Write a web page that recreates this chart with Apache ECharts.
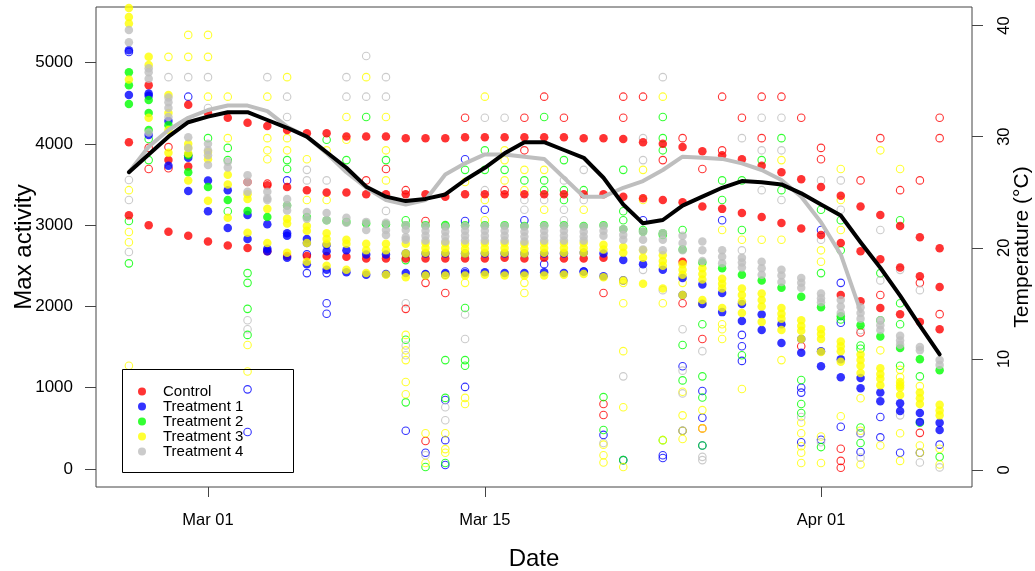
<!DOCTYPE html>
<html><head><meta charset="utf-8">
<script src="https://cdn.jsdelivr.net/npm/echarts@6/dist/echarts.min.js"></script>
<style>html,body{margin:0;padding:0;background:#fff}#c{width:1035px;height:571px}</style>
</head><body><div id="c"></div>
<script>
const dates = ['2015-02-25','2015-02-26','2015-02-27','2015-02-28','2015-03-01','2015-03-02','2015-03-03','2015-03-04','2015-03-05','2015-03-06',
'2015-03-07','2015-03-08','2015-03-09','2015-03-10','2015-03-11','2015-03-12','2015-03-13','2015-03-14','2015-03-15','2015-03-16',
'2015-03-17','2015-03-18','2015-03-19','2015-03-20','2015-03-21','2015-03-22','2015-03-23','2015-03-24','2015-03-25','2015-03-26',
'2015-03-27','2015-03-28','2015-03-29','2015-03-30','2015-03-31','2015-04-01','2015-04-02','2015-04-03','2015-04-04','2015-04-05',
'2015-04-06','2015-04-07'];
const xTickDates = ['2015-03-01','2015-03-15','2015-04-01'];
const xTickLabels = ['Mar 01','Mar 15','Apr 01'];
const activityTicks = [0,1000,2000,3000,4000,5000];
const tempTicks = [0,10,20,30,40];
const names = ['Control','Treatment 1','Treatment 2','Treatment 3','Treatment 4'];
const colors = ['#FF0000','#0000FF','#00FF00','#FFFF00','#BEBEBE'];

// temperature lines (°C), one value per day
const tempBlack = [26.8,28.4,30.0,31.3,31.8,32.2,32.2,31.5,30.8,30.0,28.6,27.2,25.5,24.6,24.2,24.4,24.8,26.1,27.2,28.5,
29.5,29.5,28.8,28.1,26.3,23.9,22.2,22.5,23.8,24.6,25.4,26.0,25.9,25.7,24.9,23.9,22.9,20.5,18.2,15.7,13.0,10.4];
const tempGray = [26.8,29.1,30.6,31.7,32.4,32.8,32.8,32.3,30.9,30.0,28.5,26.8,25.4,24.3,23.9,24.3,26.6,27.6,28.4,28.4,
28.2,28.0,26.3,24.6,24.6,25.4,26.0,27.0,28.2,28.1,28.0,27.6,27.0,26.1,24.6,22.3,19.4,14.3];

// filled points (per day)
const ctrlFilled = [[4020,3120],[4720,3000],[3800,2920],[4480,3720,2870],[4380,2800],[4320,2750],[4260,3530,2720],[4220,3490,2680],
[4170,3470,2620],[4130,3430,2620],[4130,3400,2620],[4090,3400,2610],[4090,3380,2590],[4090,3380,2590],[4070,3380,2590],[4070,3380,2590],
[4070,3350,2590],[4080,3380,2590],[4080,3380,2590],[4080,3380,2600],[4080,3380,2590],[4080,3380,2600],[4080,3380,2590],[4070,3380,2590],
[4070,3380,2600],[4060,3350],[4020,3330],[4000,3310],[3960,3280,2550],[3910,3230],[3860,3200],[3810,3150],[3730,3100],[3650,3025],
[3565,2960],[3470,2880],[3360,2780,2140],[3230,2680,2065],[3125,2580,1980],[2990,2480,1905],[2850,2370,1810],[2715,2240,1720]];
const t1Filled = [[5150,4600],[4620,4590,4110],[4280,3730],[3860,3830,3420],[3550,3170],[3430,2965],[3125,2830],[3010,2710,2680],
[2900,2870,2600],[2830,2780,2520],[2755,2680,2450],[2690,2420],[2640,2390],[2640,2400],[2650,2410],[2650,2400],[2650,2410],[2650,2410],
[2650,2420],[2650,2410],[2650,2410],[2650,2420],[2650,2410],[2660,2430],[2650,2370],[2570],[2520],[2450],[2350,2140],[2270,2030],
[2165,1930],[2030,1820],[1900,1710],[1780,1550],[1600,1430],[1450,1265],[1350,1130],[1120,995],[940,835],[810,715],[690,580],[570,480]];
const t2Filled = [[4880,4720,4490],[4540,4380,4170],[4230],[3860,3650],[3470],[3310],[3175],[3100],[3240],[3100],[3060],[3040],[3020],
[3010],[3000],[3000],[2990],[3000],[3000],[3000],[2990],[3000],[3000],[2990],[3000],[2950],[2920],[2900],[2700],[2540],[2470],[2390],
[2320],[2230],[2120],[1990],[1880],[1770],[1630],[1490],[1350],[1215]];
const t3Filled = [[5700,5670,5560,5480,4790],[5070,4970,4320],[4600,4380,4170,3890],[4000,3950,3880,3550],[3900,3810,3300],
[3620,3500,3090],[3380,3320,2905],[3200,2780],[3080,3020,2660],[2990,2930,2780,2550],[2900,2830,2770,2500],[2820,2770,2450],
[2770,2690,2410],[2770,2690,2390],[2770,2650,2360],[2780,2720,2660,2380],[2780,2720,2660,2380],[2770,2710,2650,2380],
[2780,2720,2660,2390],[2780,2720,2660,2380],[2770,2710,2650,2380],[2780,2720,2660,2380],[2780,2720,2660,2390],[2780,2720,2660,2400],
[2760,2700,2360],[2730,2660,2320],[2690,2600,2280],[2630,2560,2500,2220],[2520,2450,2390,2140],[2470,2400,2330,2080],
[2340,2280,2220,1980],[2220,2140,2060,1920],[2160,2080,2000,1810],[1980,1910,1850,1710],[1830,1760,1700,1600],[1720,1660,1600,1440],
[1570,1510,1450,1320],[1410,1340,1270,1180],[1240,1170,1110,1030],[1070,1030,1000,910],[940,870,800],[790,720,660]];
const t4Filled = [[5400,5250],[4930,4880,4800,4140],[4570,4510,4440,4330],[4080,3950],[4000,3920,3860,3740],[3780,3710],
[3615,3530,3410],[3410,3330,3310],[3320,3240,3180],[3160,3080],[3150,3060],[3090,3030],[3040,2940],[3030,2940,2880],
[3000,2940,2850,2820],[2990,2930,2870,2810],[2980,2920,2860,2800],[2990,2930,2870,2810],[2990,2930,2870,2810],[2990,2930,2870,2810],
[2980,2920,2860,2800],[2990,2930,2870,2810],[2990,2930,2870,2810],[2980,2920,2860,2810],[2990,2930,2870],[2950,2880,2820],
[2920,2820,2700],[2900,2820,2690],[2870,2780,2690],[2800,2690,2560],[2690,2610,2530],[2600,2540,2480],[2550,2470,2390],
[2450,2380,2300],[2350,2290,2230],[2160,2100,2050],[2080,2000,1920],[1990,1920,1850],[1830,1770,1710],[1640,1580,1530],[1500,1460],
[1340,1280]];

// open circles (per day)
const ctrlOpen = [[],[3950,3690],[3960,3700],[],[],[],[],[3510],[],[],[],[],[3550],[3690],[3430,1970],[3050,2290,345],[2165],[4320],[],
[3430],[4320,3920],[4580],[4320],[],[2165,800,665],[4580,4320],[4580],[3800],[4070,2040],[3690,1600,500],[4580,3920],[4320],
[4580,4070],[4580],[4320,1510],[3950,3810],[250,100,15],[3550,1680],[4070,2140],[3430],[3550,2290,445],[4320,4070,1905]];
const t1Open = [[5130],[],[],[4580],[],[],[980,455],[],[3550],[2640,2410],[2410,2040,1910],[],[],[],[470],[2390,200],[2390,850,355,50],
[3810,3050,2430,1010],[3190],[],[3060],[2520],[],[2430],[420],[2320,110],[3060],[170,135],[1265,470],[960,630,290],[3060],
[1650,1510,1330],[],[],[1000,940,330],[2940,360],[2290,1800,520],[440,210],[640,390],[200],[200],[300]];
const t2Open = [[3050,2530],[4060,3800],[],[],[4070],[3950,3800,3170],[2410,2290,1970,1650],[],[3800,3690],[],[4050],[3800],[4330],
[3800],[3060,2570,1590,820],[25],[3000,1340,875,75],[3680,1980,1340,1270],[3920,3680],[3680],[3550],[4330,3550,3430],[3800,3430,3310],
[3430],[885,480],[3680,3170,3060,110],[2940],[4330,4070,3920,2880,355],[2940,1525,1090],[1780,1140,880,290],[3550,3310],
[3550,2940,1400],[3800],[4070,3430],[1095,800,690],[3190,2410,270],[3060,2690,1840],[1520,1480,510,320],[2410,1830],
[3060,2040,1780,1270],[1140,570],[150]];
const t3Open = [[3430,2915,2790,1270],[],[5070],[5340,5070],[5340,5070,4580],[4580,4070],[1525,1200],[4580,4070,3920,3810],
[4820,4070,3920],[3810,3310],[3920,3310],[4330,4050],[4820],[4330,3920,3550],[1650,1460,1340,1070,920],[440,75],[440,245,200],
[3530,2290,875,800],[4580,3310,3060],[3920,3800,3550],[3680,3430,2290,2165],[3680,3190],[],[3190],[300,170,80],
[2290,2040,1450,760,25],[3680,3310],[4580,2040,355],[2290,950,660,470,370],[2040,725,500],[2940,1780,1720,1600],[2820,985],[2820],
[3800,2820,1340],[570,440,280,200,75],[2690,2550,400,75],[3690,3310,2940,650],[870,470,55],[3920,1460,290],[3690,1220,1130,440,100],
[1020,290,200],[250,55]];
const t4Open = [[3555,3310,2670],[],[4820],[4820],[4820,4440],[],[1830,1720],[4820],[4580,4330],[3680,3550],[3550],[4820,4580],
[5080,4580],[4820,4580,3175],[2040,1520,1400],[170],[760,600],[1900,1600],[4320,3430],[4320],[3310,3190],[3310],[3550,3190,3060],
[3680,3310],[320],[1140],[4070,3800,2450],[4820,2200],[1720,1210,930],[1450,150,110],[],[4070,2690],[4320,3920,3430],[4320,3920,3310],
[640],[3550,2820,330],[3550,3190],[1710,440,140],[2940,2320],[2450,660],[2200,80],[20]];

const DAY = 86400000;
const ts = d => Date.parse(d + 'T00:00:00Z');
const xTicks = xTickDates.map(ts);
const FONT = "'Liberation Sans', Arial, sans-serif";
function pts(arr){ const out=[]; arr.forEach((vals,i)=>vals.forEach(v=>out.push([ts(dates[i]), v]))); return out; }
function line(arr){ return arr.map((v,i)=>[ts(dates[i]), v]); }

const filledSets = [ctrlFilled,t1Filled,t2Filled,t3Filled,t4Filled];
const openSets = [ctrlOpen,t1Open,t2Open,t3Open,t4Open];
const series = [];
openSets.forEach((s,k)=>series.push({
  name: names[k]+' (open)', type:'scatter', data: pts(s), symbol:'circle', symbolSize:7.5,
  itemStyle:{color:'rgba(255,255,255,0)', borderColor: colors[k], borderWidth:1.1}, z:2
}));
filledSets.forEach((s,k)=>series.push({
  name: names[k], type:'scatter', data: pts(s), symbol:'circle', symbolSize:8.5,
  itemStyle:{color: colors[k]}, z:3
}));
series.push({name:'Temp gray', type:'line', yAxisIndex:1, data: line(tempGray), symbol:'none',
  lineStyle:{color:'#BEBEBE', width:4, cap:'round', join:'round'}, z:4});
series.push({name:'Temp black', type:'line', yAxisIndex:1, data: line(tempBlack), symbol:'none',
  lineStyle:{color:'#000000', width:4, cap:'round', join:'round'}, z:5});

const chart = echarts.init(document.getElementById('c'), null, {renderer:'canvas'});
chart.setOption({
  animation:false,
  backgroundColor:'#fff',
  textStyle:{fontFamily:FONT},
  grid:{left:96, right:63, top:7, bottom:84, show:true, borderColor:'#444', borderWidth:1, backgroundColor:'transparent',
    containLabel:false, outerBoundsMode:'none'},
  xAxis:{type:'value', min: ts('2015-03-01') - 5.664*DAY, max: ts('2015-04-01') + 7.636*DAY,
    name:'Date', nameLocation:'middle', nameGap:60, nameMoveOverlap:false, nameTextStyle:{fontSize:24, color:'#000', fontFamily:FONT},
    axisLine:{show:false, onZero:false}, splitLine:{show:false},
    axisTick:{show:true, customValues:xTicks, length:10, lineStyle:{color:'#444'}},
    axisLabel:{customValues:xTicks, margin:25, fontSize:16.5, color:'#000', fontFamily:FONT,
      formatter:v=>{const i=xTicks.indexOf(v); return i>=0?xTickLabels[i]:'';}}},
  yAxis:[
    {type:'value', min:-221, max:5683, position:'left',
     name:'Max activity', nameLocation:'middle', nameGap:60, nameMoveOverlap:false, nameTextStyle:{fontSize:24, color:'#000', fontFamily:FONT},
     axisLine:{show:false, onZero:false}, splitLine:{show:false},
     axisTick:{show:true, customValues:activityTicks, length:11, lineStyle:{color:'#444'}},
     axisLabel:{customValues:activityTicks, margin:23, fontSize:17, color:'#000', fontFamily:FONT, formatter:v=>String(v)}},
    {type:'value', min:-1.53, max:41.67, position:'right',
     name:'Temperature (°C)', nameLocation:'middle', nameGap:40, nameRotate:90, nameMoveOverlap:false, nameTextStyle:{fontSize:21, color:'#000', fontFamily:FONT},
     axisLine:{show:false, onZero:false}, splitLine:{show:false},
     axisTick:{show:true, customValues:tempTicks, length:11, lineStyle:{color:'#444'}},
     axisLabel:{customValues:tempTicks, margin:24, rotate:90, fontSize:16.5, color:'#000', fontFamily:FONT, formatter:v=>String(v)}}
  ],
  legend:{data:names, orient:'vertical', left:138, top:384, padding:0, itemGap:0, itemWidth:32, itemHeight:8, icon:'circle',
    selectedMode:false, textStyle:{fontSize:15, lineHeight:14.5, color:'#000', fontFamily:FONT}},
  graphic:[{type:'rect', shape:{x:122.5, y:369.5, width:171, height:103}, style:{fill:null, stroke:'#000', lineWidth:1}, z:100}],
  series: series
});
</script></body></html>
